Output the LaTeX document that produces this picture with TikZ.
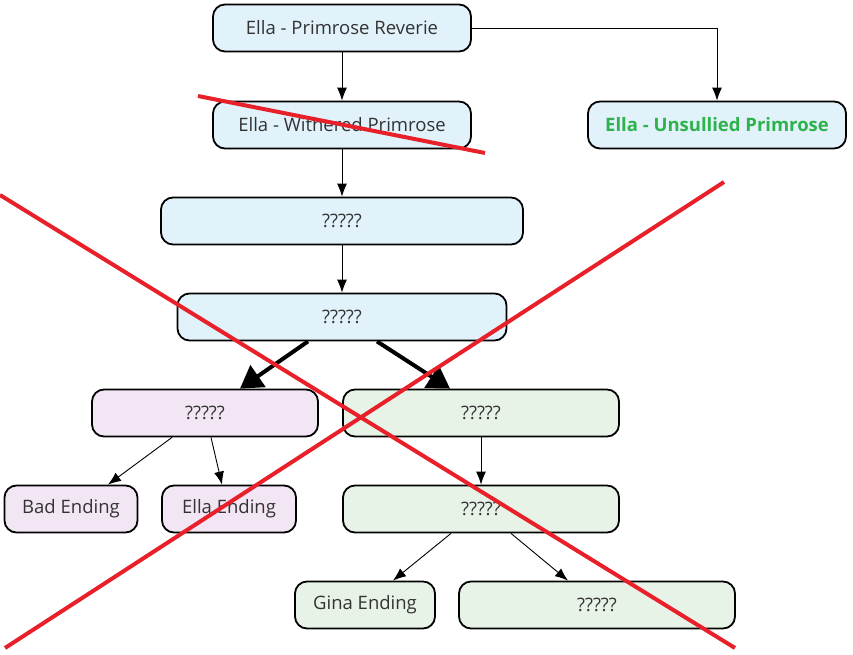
\documentclass[tikz,border=0pt]{standalone}
\usepackage{fontspec}
\setmainfont{Open Sans}
\usepackage{tikz}
\usetikzlibrary{arrows,arrows.meta}
\definecolor{boxblue}{HTML}{E1F2FB}
\definecolor{boxpurple}{HTML}{F2E5F4}
\definecolor{boxgreen}{HTML}{E8F3E7}
\definecolor{txtgray}{HTML}{333333}
\definecolor{goodgreen}{HTML}{2DB24C}
\definecolor{crossred}{HTML}{E8202A}
\tikzset{
 route/.style={draw=black,line width=1.8pt,rounded corners=12pt,minimum height=47pt,
   text=txtgray,font=\fontsize{18.5}{22}\selectfont,inner sep=0pt},
 blue/.style={route,fill=boxblue},
 purple/.style={route,fill=boxpurple},
 green/.style={route,fill=boxgreen},
 link/.style={-{Latex[length=13pt,width=10pt]},line width=0.9pt},
 biglink/.style={-{Triangle[length=22pt,width=26pt]},line width=4pt},
 cross/.style={crossred,line width=4pt}
}

\begin{document}
\begin{tikzpicture}[x=1pt,y=-1pt]
\useasboundingbox (0,0) rectangle (853,655);
\node[blue,minimum width=258pt] (R1) at (342,28) {Ella - Primrose Reverie};
 \node[blue,minimum width=258pt] (R2) at (342,125) {Ella - Withered Primrose};
 \node[blue,minimum width=258pt] (U) at (717,125) {\textcolor{goodgreen}{\bfseries Ella - Unsullied Primrose}};
 \node[blue,minimum width=362pt] (R3) at (342,221) {?????};
 \node[blue,minimum width=329pt] (R4) at (342,317) {?????};
\node[purple,minimum width=226pt] (P1) at (205,413) {?????};
 \node[green,minimum width=276pt] (G1) at (481,413) {?????};
 \node[purple,minimum width=133pt] (Bad) at (71,509) {Bad Ending};
 \node[purple,minimum width=134pt] (Ella) at (229,509) {Ella Ending};
 \node[green,minimum width=276pt] (G2) at (481,509) {?????};
\node[green,minimum width=140pt] (Gina) at (365,605) {Gina Ending};
 \node[green,minimum width=276pt] (Q) at (597,605) {?????};
 \draw [link] (R1) -- (R2);
 \draw [link] (R1.east) -| (U.north);
 \draw [link] (R2) -- (R3);
 \draw [link] (R3) -- (R4);
\draw [biglink] ([xshift=-34pt]R4.south) -- ([xshift=35pt]P1.north);
\draw [biglink] ([xshift=35pt]R4.south) -- ([xshift=-31pt]G1.north);
 \draw [link] ([xshift=-33pt]P1.south) -- ([xshift=37pt]Bad.north);
 \draw [link] ([xshift=6pt]P1.south) -- ([xshift=-7pt]Ella.north);
 \draw [link] (G1) -- (G2);
 \draw [link] ([xshift=-30pt]G2.south) -- ([xshift=28pt]Gina.north);
 \draw [link] ([xshift=30pt]G2.south) -- ([xshift=-29pt]Q.north);
% crossed out
\draw [cross] (198,96) -- (485,153);
\draw [cross] (0,195) -- (735,648);
\draw [cross] (5,648) -- (724,182);
 \end{tikzpicture}
\end{document}
